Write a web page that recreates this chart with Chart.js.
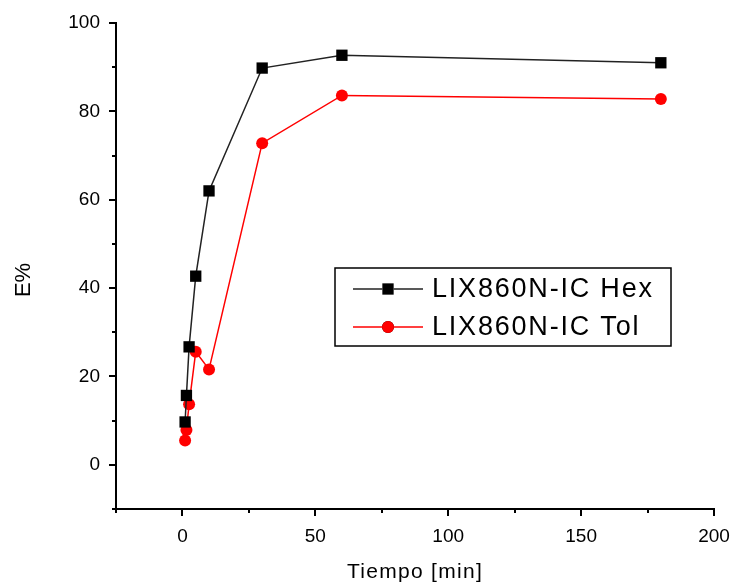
<!DOCTYPE html>
<html><head><meta charset="utf-8">
<script src="https://cdn.jsdelivr.net/npm/chart.js@4/dist/chart.umd.min.js"></script>
<style>html,body{margin:0;padding:0;background:#fff}#wrap{width:732px;height:583px}</style>
</head>
<body><div id="wrap"><canvas id="c" width="732" height="583"></canvas></div>
<script>
const seriesNames = ['LIX860N-IC Hex', 'LIX860N-IC Tol'];
const timeHex = [1, 1.5, 2.5, 5, 10, 30, 60, 180];
const eHex    = [9.7, 15.7, 26.7, 42.7, 62.0, 89.8, 92.7, 91.0];
const timeTol = [1, 1.5, 2.5, 5, 10, 30, 60, 180];
const eTol    = [5.5, 7.9, 13.7, 25.6, 21.6, 72.8, 83.6, 82.8];
const xTickLabels = [0, 50, 100, 150, 200];
const yTickLabels = [0, 20, 40, 60, 80, 100];
const xTitle = 'Tiempo [min]';
const yTitle = 'E%';

const FONT = '"Liberation Sans", Arial, sans-serif';
const toPts = (xs, ys) => xs.map((x, i) => ({x: x, y: ys[i]}));

const tickPlugin = {
  id: 'ticksAndTitles',
  afterDraw(chart) {
    const ctx = chart.ctx;
    const xs = chart.scales.x, ys = chart.scales.y;
    const ca = chart.chartArea;
    ctx.save();
    ctx.strokeStyle = '#000';
    ctx.lineWidth = 2;
    xs.ticks.forEach(t => {
      const px = Math.round(xs.getPixelForValue(t.value));
      const len = xTickLabels.includes(t.value) ? 7 : 4;
      ctx.beginPath(); ctx.moveTo(px, ca.bottom); ctx.lineTo(px, ca.bottom + len); ctx.stroke();
    });
    ys.ticks.forEach(t => {
      const py = Math.round(ys.getPixelForValue(t.value));
      const len = yTickLabels.includes(t.value) ? 7 : 4;
      ctx.beginPath(); ctx.moveTo(ca.left, py); ctx.lineTo(ca.left - len, py); ctx.stroke();
    });
    // axis titles
    ctx.fillStyle = '#000';
    ctx.font = '21px ' + FONT;
    ctx.letterSpacing = '1.3px';
    ctx.textAlign = 'center';
    ctx.textBaseline = 'alphabetic';
    ctx.fillText(xTitle, (ca.left + ca.right) / 2, 578);
    ctx.save();
    ctx.translate(30, 280);
    ctx.rotate(-Math.PI / 2);
    ctx.font = '22px ' + FONT;
    ctx.letterSpacing = '0px';
    ctx.fillText(yTitle, 0, 0);
    ctx.restore();
    // legend
    const bx = 335, by = 268, bw = 336, bh = 78;
    ctx.lineWidth = 1.5;
    ctx.strokeStyle = '#000';
    ctx.fillStyle = '#fff';
    ctx.fillRect(bx, by, bw, bh);
    ctx.strokeRect(bx, by, bw, bh);
    const rows = [289, 327];
    chart.data.datasets.forEach((ds, i) => {
      const y = rows[i];
      ctx.strokeStyle = ds.borderColor;
      ctx.lineWidth = 1.5;
      ctx.beginPath(); ctx.moveTo(353, y); ctx.lineTo(423, y); ctx.stroke();
      Chart.helpers.drawPoint(ctx, {pointStyle: ds.pointStyle, radius: ds.pointRadius, borderWidth: 0, rotation: 0}, 388, y);
      ctx.fillStyle = ds.pointBackgroundColor;
      ctx.fill();
      ctx.fillStyle = '#000';
      ctx.font = '27px ' + FONT;
      ctx.letterSpacing = '1.8px';
      ctx.textAlign = 'left';
      ctx.textBaseline = 'middle';
      ctx.fillText(ds.label, 432, y + 1);
    });
    ctx.restore();
  }
};

new Chart(document.getElementById('c'), {
  type: 'scatter',
  data: {
    datasets: [
      {
        label: seriesNames[0],
        data: toPts(timeHex, eHex),
        showLine: true,
        borderColor: '#222222',
        backgroundColor: '#000000',
        pointBackgroundColor: '#000000',
        pointBorderColor: '#000000',
        borderWidth: 1.5,
        pointStyle: 'rect',
        pointRadius: 8,
        pointBorderWidth: 0,
        pointHoverRadius: 8
      },
      {
        label: seriesNames[1],
        data: toPts(timeTol, eTol),
        showLine: true,
        borderColor: '#ff0000',
        backgroundColor: '#ff0000',
        pointBackgroundColor: '#ff0000',
        pointBorderColor: '#ff0000',
        borderWidth: 1.5,
        pointStyle: 'circle',
        pointRadius: 6,
        pointBorderWidth: 0,
        pointHoverRadius: 6
      }
    ]
  },
  options: {
    responsive: false,
    animation: false,
    devicePixelRatio: 1,
    layout: {padding: {left: 0, top: 23, right: 18, bottom: 0}},
    plugins: {legend: {display: false}, tooltip: {enabled: false}},
    scales: {
      x: {
        type: 'linear', min: -25, max: 200,
        afterFit: s => { s.height = 74; s.paddingLeft = 0; s.paddingRight = 0; },
        ticks: {
          stepSize: 25, autoSkip: false, maxRotation: 0,
          callback: v => xTickLabels.includes(v) ? String(v) : '',
          font: {family: FONT, size: 19}, color: '#000', padding: 16
        },
        grid: {display: true, drawOnChartArea: false, drawTicks: false},
        border: {display: true, color: '#000', width: 2}
      },
      y: {
        type: 'linear', min: -10, max: 100,
        afterFit: s => { s.width = 116; s.paddingTop = 0; s.paddingBottom = 0; },
        ticks: {
          stepSize: 10, autoSkip: false,
          callback: v => yTickLabels.includes(v) ? String(v) : '',
          font: {family: FONT, size: 19}, color: '#000', padding: 16
        },
        grid: {display: true, drawOnChartArea: false, drawTicks: false},
        border: {display: true, color: '#000', width: 2}
      }
    }
  },
  plugins: [tickPlugin]
});
</script>
</body></html>
